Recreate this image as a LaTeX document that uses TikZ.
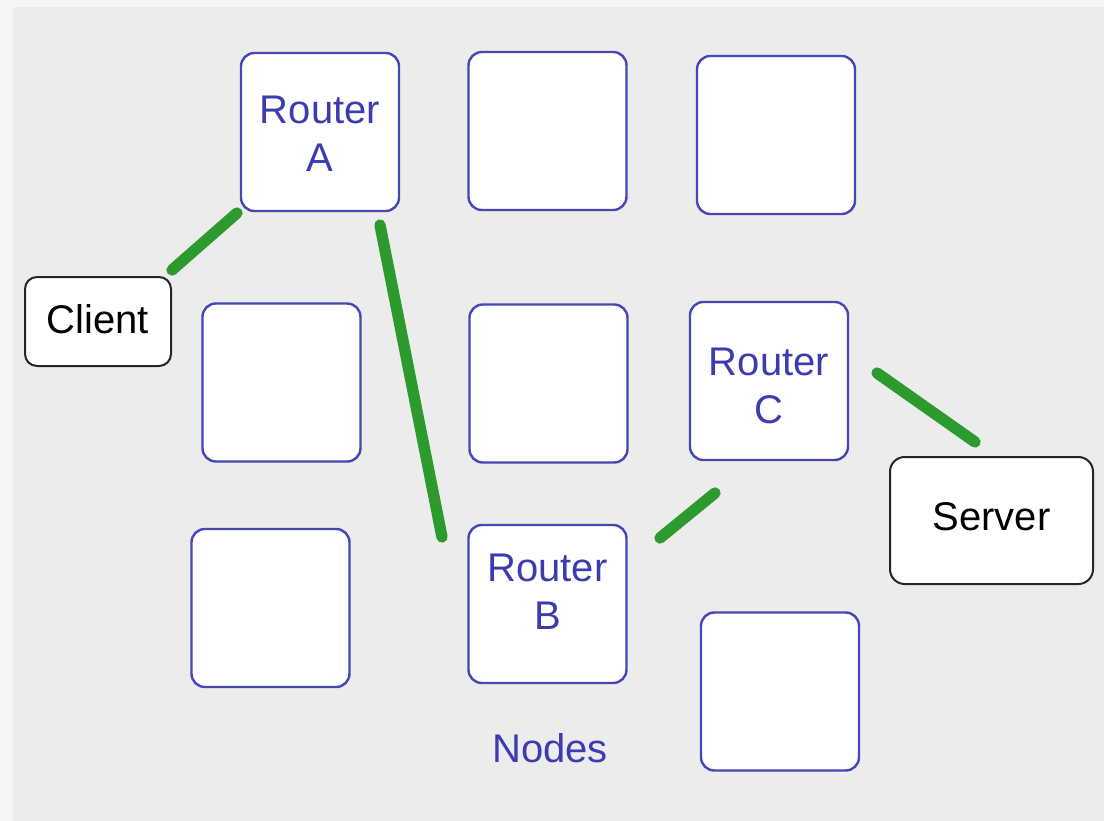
\documentclass[tikz,border=0pt]{standalone}
\usepackage{fontspec}
\setmainfont{Liberation Sans}
\definecolor{outerbg}{HTML}{F6F6F6}
\definecolor{innerbg}{HTML}{ECECEC}
\definecolor{boxblue}{HTML}{4646B4}
\definecolor{textblue}{HTML}{3C3CB0}
\definecolor{linkgreen}{HTML}{2C9A2C}
\begin{document}
\begin{tikzpicture}[x=0.75pt,y=-0.75pt,
  nodebox/.style={draw=boxblue, line width=1.8pt, fill=white, rounded corners=10pt,
    minimum width=118.5pt, minimum height=118.5pt, inner sep=0pt},
  bluetext/.style={inner sep=0pt, align=center, text=textblue,
    font=\fontsize{30pt}{36pt}\selectfont},
  endbox/.style={draw=black!85, line width=1.5pt, fill=white, rounded corners=10pt,
    inner sep=0pt},
  blacktext/.style={inner sep=0pt, align=center, text=black,
    font=\fontsize{30pt}{36pt}\selectfont},
  link/.style={draw=linkgreen, line width=8.5pt, line cap=round}]
\fill[outerbg] (0,0) rectangle (1104,821);
\fill[innerbg] (13,7) rectangle (1104,821);
\useasboundingbox (0,0) rectangle (1104,821);
% router grid
\node[nodebox] (ra) at (320,132) {};
\node[nodebox] (t2) at (547.5,131) {};
\node[nodebox] (t3) at (776,135) {};
\node[nodebox] (m1) at (281.5,382.5) {};
\node[nodebox] (m2) at (548.5,383.5) {};
\node[nodebox] (rc) at (769,381) {};
\node[nodebox] (bl) at (270.5,608) {};
\node[nodebox] (rb) at (547.5,604) {};
\node[nodebox] (br) at (780,691.5) {};
\node[bluetext] (rat) at ([yshift=-1.5pt]ra.center) {Router\\A};
\node[bluetext] (rct) at ([yshift=-3.75pt]rc.center) {Router\\C};
\node[bluetext] (rbt) at ([yshift=9pt]rb.center) {Router\\B};
% end points
\node[endbox, minimum width=109.5pt, minimum height=66.75pt, rounded corners=9pt] (client) at (98,321.5) {};
\node[endbox, minimum width=152.25pt, minimum height=95.25pt, rounded corners=11pt] (server) at (991.5,520.5) {};
\node[blacktext] (clientt) at ([yshift=1.5pt]client.center) {Client};
\node[blacktext] (servert) at ([yshift=3pt]server.center) {Server};
% label
\node[bluetext] (lbl) at (550,748) {Nodes};
% links
\coordinate (l1a) at (172,270);
\coordinate (l1b) at (237,213);
\coordinate (l2a) at (380,225);
\coordinate (l2b) at (442,537);
\coordinate (l3a) at (660,538);
\coordinate (l3b) at (715,493);
\coordinate (l4a) at (877,373);
\coordinate (l4b) at (975,442);
\draw[link] (l1a) -- (l1b);
\draw[link] (l2a) -- (l2b);
\draw[link] (l3a) -- (l3b);
\draw[link] (l4a) -- (l4b);
\end{tikzpicture}
\end{document}
